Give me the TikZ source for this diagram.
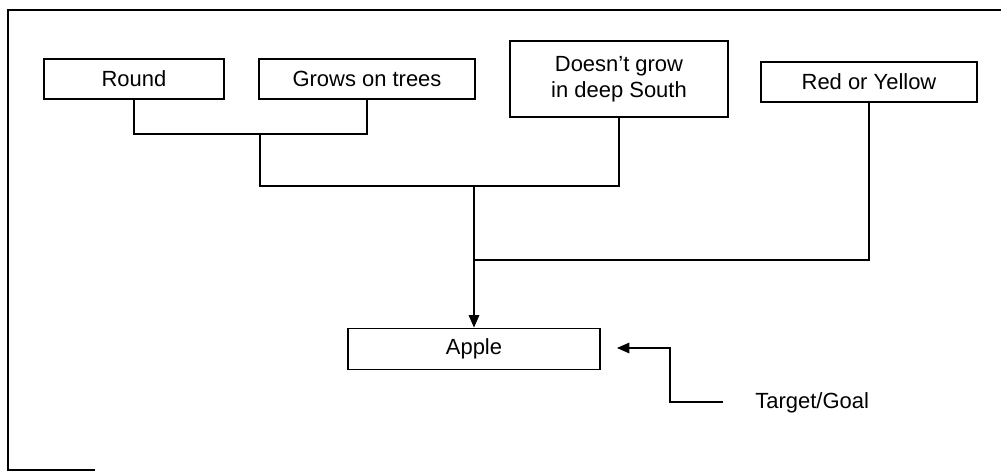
\documentclass[tikz,border=0pt]{standalone}
\usepackage{fontspec}
\setmainfont{Liberation Sans}
\usetikzlibrary{arrows.meta}

\begin{document}
\begin{tikzpicture}[x=0.02cm, y=-0.02cm]
        \tikzstyle{attr}=[draw, line width=1.1pt, inner sep=0pt, minimum height=40*0.02cm, font=\fontsize{12.5}{14.7}\selectfont, align=center]
        \tikzstyle{link}=[line width=0.6pt]

        \useasboundingbox (0,0) rectangle (1001,472);

        % frame of the page
        \draw[link] (95,470) -- (8,470) -- (8,10) -- (1001,10);

        % attributes
        \node[attr, minimum width=180*0.02cm] (round) at (134,79) {Round};
        \node[attr, minimum width=216*0.02cm] (trees) at (367,79) {Grows on trees};
        \node[attr, minimum width=218*0.02cm, minimum height=76*0.02cm] (south) at (619,79) {Doesn't grow\\in deep South};
        \node[attr, minimum width=216*0.02cm] (colour) at (869,82) {Red or Yellow};

        % target
        \node[attr, minimum width=252*0.02cm, minimum height=41*0.02cm] (apple) at (474,349) {Apple};
        \node[anchor=west, inner sep=0pt, font=\fontsize{12.5}{14.7}\selectfont] (goal) at (755,403) {Target/Goal};

        \coordinate (j1) at (260,134);
        \coordinate (j2) at (474,186);
        \coordinate (j3) at (474,260);
        \coordinate (g0) at (723,402);
        \coordinate (g1) at (670,402);
        \coordinate (gtip) at (617,348);

        \draw[link] (round.south) |- (j1) -| (trees.south);
        \draw[link] (j1) |- (j2) -| (south.south);
        \draw[link] (colour.south) |- (j3);
        \draw[link, -{Triangle[length=7pt, width=6pt]}] (j2) -- (apple.north);
        \draw[link, -{Triangle[length=7pt, width=6pt]}] (g0) -- (g1) |- (gtip);
    \end{tikzpicture}
\end{document}
